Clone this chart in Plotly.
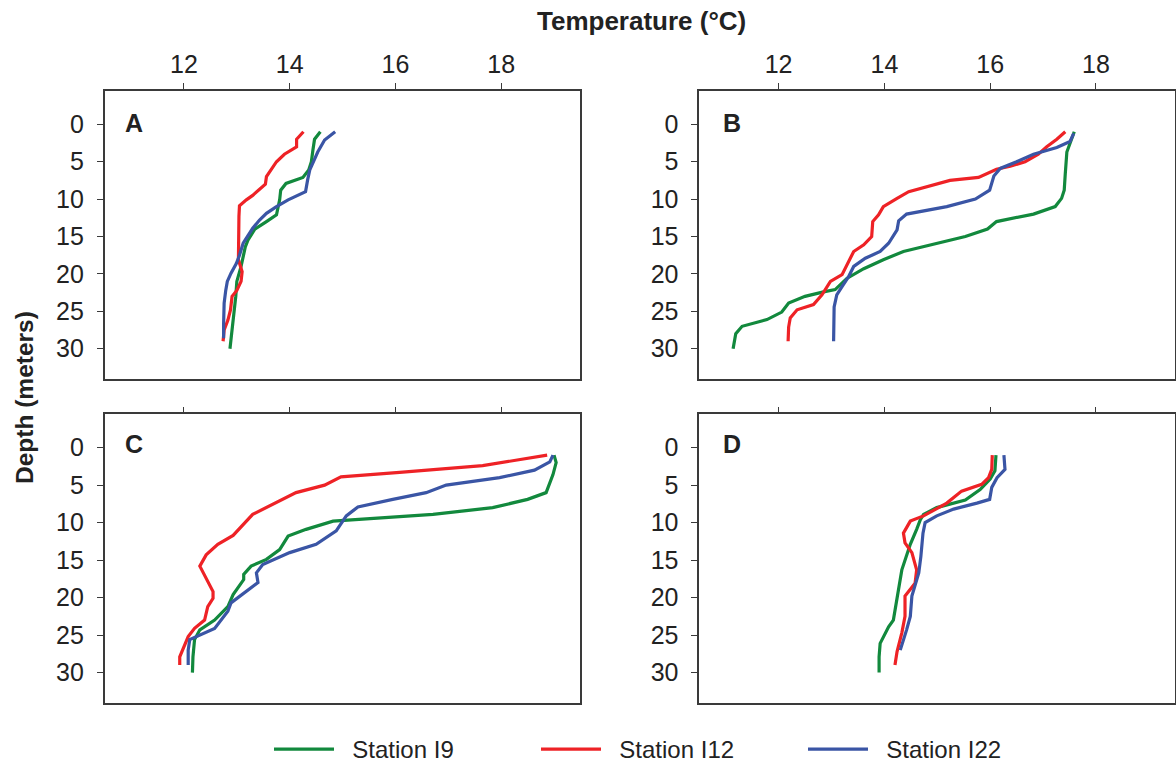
import plotly.graph_objects as go

# ---------------- data (temperature °C, depth m) ----------------
stations = ["Station I9", "Station I12", "Station I22"]
colors = ["#12893d", "#ee2226", "#3a55a5"]
panel_labels = ["A", "B", "C", "D"]
x_ticks = [12, 14, 16, 18]
y_ticks = [0, 5, 10, 15, 20, 25, 30]

# Panel A
A_I9_temp = [14.58, 14.47, 14.44, 14.41, 14.36, 14.25, 13.93, 13.83, 13.81, 13.75, 13.56, 13.34, 13.21, 13.16, 13.08, 13.00, 12.98, 12.94, 12.89, 12.87]
A_I9_depth = [1, 2, 3.4, 5, 6.1, 7.1, 7.9, 8.8, 10.1, 12.1, 13, 14, 15.5, 16.4, 19, 21, 23, 25.7, 28.4, 30]
A_I12_temp = [14.26, 14.17, 14.13, 14.13, 13.90, 13.75, 13.65, 13.56, 13.54, 13.30, 13.18, 13.05, 13.04, 13.04, 13.03, 13.10, 13.08, 13.00, 12.91, 12.88, 12.83, 12.76, 12.74]
A_I12_depth = [1, 1.65, 2, 3, 4, 5, 6.1, 7, 8, 9.5, 10.1, 10.9, 12.3, 15.5, 18.1, 19.7, 21, 22.2, 23, 24.8, 26.2, 27.5, 29]
A_I22_temp = [14.86, 14.66, 14.53, 14.38, 14.34, 14.30, 13.97, 13.75, 13.56, 13.43, 13.30, 13.21, 13.12, 13.05, 12.99, 12.89, 12.82, 12.79, 12.76, 12.75, 12.75]
A_I22_depth = [1, 2.1, 3.7, 6.1, 7.4, 9, 10.1, 11, 11.9, 12.8, 13.9, 15, 15.9, 17.5, 18.6, 19.9, 21, 22.2, 23.9, 26.6, 28.6]

# Panel B
B_I9_temp = [17.59, 17.51, 17.45, 17.42, 17.40, 17.35, 17.23, 16.82, 16.12, 15.95, 15.53, 14.36, 13.98, 13.61, 13.29, 13.07, 12.85, 12.50, 12.19, 12.06, 11.78, 11.31, 11.19, 11.14]
B_I9_depth = [1, 2.5, 3.7, 6.6, 8.8, 9.9, 11, 12, 13, 14, 15, 17, 18.1, 19.3, 20.6, 22.1, 22.4, 23, 23.9, 25.1, 26.1, 27, 28, 30]
B_I12_temp = [17.42, 17.26, 17.07, 16.91, 16.66, 16.38, 16.12, 16.03, 15.78, 15.24, 14.93, 14.46, 14.24, 13.98, 13.89, 13.78, 13.76, 13.61, 13.42, 13.20, 12.98, 12.88, 12.82, 12.66, 12.35, 12.22, 12.19, 12.18]
B_I12_depth = [1, 2, 3, 4, 5, 5.6, 6, 6.3, 7.1, 7.5, 8.1, 9, 9.9, 11, 12.1, 13, 15, 16.1, 17, 20.1, 21, 22.2, 22.8, 24.1, 24.8, 25.9, 27.1, 29]
B_I22_temp = [17.58, 17.51, 17.26, 16.82, 16.50, 16.19, 16.07, 15.99, 15.72, 15.18, 14.42, 14.27, 14.24, 14.08, 13.92, 13.64, 13.42, 13.32, 13.20, 13.10, 13.05, 13.04, 13.04]
B_I22_depth = [1.2, 2.3, 3.1, 4, 5, 5.9, 6.9, 8.8, 10, 11, 12, 12.9, 14.1, 15.9, 17, 17.9, 19, 20.4, 21.7, 22.8, 24.4, 26.6, 29]

# Panel C
C_I9_temp = [19.00, 19.04, 18.98, 18.85, 18.50, 17.84, 16.71, 14.82, 14.31, 13.97, 13.81, 13.56, 13.27, 13.13, 13.13, 12.93, 12.83, 12.58, 12.30, 12.20, 12.17, 12.16]
C_I9_depth = [1, 2, 3.6, 6, 6.9, 8, 8.9, 9.8, 10.9, 11.8, 13.6, 14.9, 15.8, 16.9, 17.6, 19.6, 21.2, 23, 24.3, 25.6, 27.9, 30]
C_I12_temp = [18.87, 18.09, 17.65, 16.08, 14.97, 14.66, 14.12, 13.30, 13.18, 12.93, 12.64, 12.42, 12.30, 12.42, 12.55, 12.55, 12.45, 12.39, 12.20, 12.08, 11.92, 11.92]
C_I12_depth = [1, 1.9, 2.4, 3.3, 3.9, 5, 6, 8.9, 9.8, 11.7, 12.9, 14.3, 15.8, 17.4, 19.2, 20.1, 21.2, 23, 24.1, 25.2, 27.9, 29]
C_I22_temp = [18.98, 18.92, 18.63, 17.97, 16.96, 16.58, 15.95, 15.29, 15.07, 14.88, 14.50, 14.00, 13.49, 13.37, 13.40, 13.05, 12.89, 12.83, 12.58, 12.11, 12.08, 12.08]
C_I22_depth = [1, 1.9, 3, 4, 5, 6, 6.9, 7.9, 9.1, 11.1, 12.9, 14, 15.6, 16.7, 18, 19.8, 20.7, 21.8, 24.1, 25.6, 27, 29]

# Panel D
D_I9_temp = [16.11, 16.09, 16.00, 15.81, 15.53, 14.99, 14.74, 14.68, 14.61, 14.49, 14.33, 14.27, 14.17, 14.08, 13.92, 13.90, 13.90]
D_I9_depth = [1, 3.1, 4.2, 5.6, 7, 8, 8.9, 9.6, 10.9, 12.9, 16.3, 18.9, 23, 23.9, 26.1, 27.9, 30]
D_I12_temp = [16.04, 16.03, 15.97, 15.84, 15.46, 15.18, 14.74, 14.49, 14.36, 14.39, 14.52, 14.61, 14.58, 14.39, 14.39, 14.33, 14.24, 14.20]
D_I12_depth = [1, 2.9, 4, 4.9, 5.8, 7.4, 9.1, 9.8, 11.4, 12.7, 14, 16.3, 18.1, 19.8, 22.5, 24.7, 27.2, 29]
D_I22_temp = [16.26, 16.28, 16.13, 16.03, 15.99, 15.75, 15.31, 14.99, 14.77, 14.73, 14.69, 14.65, 14.52, 14.49, 14.42, 14.30]
D_I22_depth = [1, 2.9, 4, 5.3, 6.9, 7.4, 8.2, 9.1, 10, 11.4, 14.5, 16.7, 19.8, 22.5, 24.3, 27]

panels = [
    [(A_I9_temp, A_I9_depth), (A_I12_temp, A_I12_depth), (A_I22_temp, A_I22_depth)],
    [(B_I9_temp, B_I9_depth), (B_I12_temp, B_I12_depth), (B_I22_temp, B_I22_depth)],
    [(C_I9_temp, C_I9_depth), (C_I12_temp, C_I12_depth), (C_I22_temp, C_I22_depth)],
    [(D_I9_temp, D_I9_depth), (D_I12_temp, D_I12_depth), (D_I22_temp, D_I22_depth)],
]

# ---------------- layout geometry ----------------
W, H = 1176, 772
FONT = "Liberation Sans, Arial, sans-serif"
x_domains = [[0.0890, 0.4936], [0.5946, 0.9994]]
y_domains = [[0.5095, 0.8821], [0.0899, 0.4634]]
frame_color = "#3a3a3a"

fig = go.Figure()

for p, series in enumerate(panels):
    ax = "" if p == 0 else str(p + 1)
    for s, (temp, depth) in enumerate(series):
        fig.add_trace(go.Scatter(
            x=temp, y=depth, mode="lines",
            line=dict(color=colors[s], width=3.2),
            name="\u00a0\u00a0" + stations[s], legendgroup=stations[s],
            showlegend=(p == 0),
            xaxis="x" + ax, yaxis="y" + ax,
            hoverinfo="skip",
        ))

layout_axes = {}
for p in range(4):
    row, col = divmod(p, 2)
    ax = "" if p == 0 else str(p + 1)
    layout_axes["xaxis" + ax] = dict(
        domain=x_domains[col], anchor="y" + ax, side="top",
        range=[10.5, 19.5], autorange=False,
        tickvals=x_ticks, ticktext=[str(v) for v in x_ticks],
        showticklabels=(row == 0),
        ticks="outside", ticklen=6, tickwidth=1.2, tickcolor=frame_color,
        showline=True, mirror=True, linecolor=frame_color, linewidth=1.5,
        showgrid=False, zeroline=False, automargin=False,
        ticklabelstandoff=0,
        tickfont=dict(family=FONT, size=25, color="#222222"),
    )
    layout_axes["yaxis" + ax] = dict(
        domain=y_domains[row], anchor="x" + ax,
        range=[34.0, -4.45], autorange=False,
        tickvals=y_ticks, ticktext=[str(v) for v in y_ticks],
        ticks="outside", ticklen=6, tickwidth=1.2, tickcolor=frame_color,
        showline=True, mirror=True, linecolor=frame_color, linewidth=1.5,
        showgrid=False, zeroline=False, automargin=False,
        ticklabelstandoff=8,
        tickfont=dict(family=FONT, size=25, color="#222222"),
    )

annotations = []
letter_pos = [(123 / W, 1 - 122.5 / H), (720.7 / W, 1 - 122.5 / H),
              (123 / W, 1 - 444 / H), (720.7 / W, 1 - 444 / H)]
for lab, (lx, ly) in zip(panel_labels, letter_pos):
    annotations.append(dict(
        text="<b>%s</b>" % lab, x=lx, y=ly, xref="paper", yref="paper",
        xanchor="left", yanchor="middle", showarrow=False,
        font=dict(family=FONT, size=25, color="#222222"),
    ))
annotations.append(dict(
    text="<b>Temperature (°C)</b>", x=641 / W, y=1 - 21 / H, xref="paper", yref="paper",
    xanchor="center", yanchor="middle", showarrow=False,
    font=dict(family=FONT, size=26, color="#222222"),
))
annotations.append(dict(
    text="<b>Depth (meters)</b>", x=24 / W, y=1 - 398 / H, xref="paper", yref="paper",
    xanchor="center", yanchor="middle", showarrow=False, textangle=-90,
    font=dict(family=FONT, size=24.5, color="#222222"),
))

fig.update_layout(
    width=W, height=H,
    margin=dict(l=0, r=0, t=0, b=0),
    template="none",
    paper_bgcolor="white", plot_bgcolor="white",
    font=dict(family=FONT, size=24, color="#222222"),
    annotations=annotations,
    showlegend=True,
    legend=dict(
        orientation="h", x=269 / W, xanchor="left",
        y=0.0, yanchor="bottom",
        bgcolor="rgba(0,0,0,0)", borderwidth=0,
        font=dict(family=FONT, size=24, color="#222222"),
        entrywidth=192, entrywidthmode="pixels", itemwidth=60,
        tracegroupgap=0,
    ),
    **layout_axes,
)

fig.write_html("out.html")
